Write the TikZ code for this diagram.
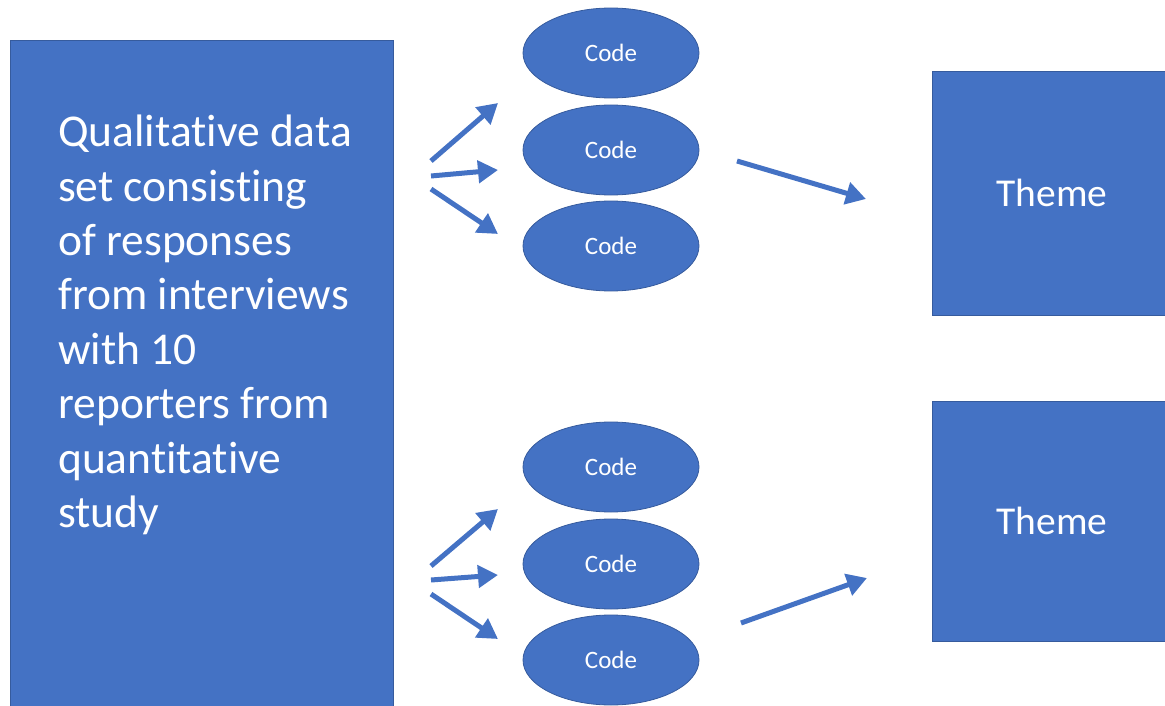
\documentclass[tikz,border=0pt]{standalone}
\usepackage{fontspec}
\setmainfont{Carlito}[Ligatures=NoCommon]
\usetikzlibrary{arrows.meta,shapes.geometric}
\definecolor{boxblue}{HTML}{4472C4}
\tikzset{
  bluebox/.style={fill=boxblue, draw=boxblue!80!black, line width=0.8pt},
  codeell/.style={ellipse, fill=boxblue, draw=boxblue!80!black, line width=0.8pt, minimum width=176pt, minimum height=90pt, inner sep=0pt, text=white, font=\fontsize{25}{30}\selectfont},
  themetxt/.style={text=white, font=\fontsize{39.5}{47}\selectfont},
  flow/.style={draw=boxblue, line width=5pt, -{Triangle[length=20pt,width=22pt]}}
}
\begin{document}
\begin{tikzpicture}[x=1pt,y=-1pt]
\useasboundingbox (0,0) rectangle (1165,706);
% main box
\node[bluebox, minimum width=383pt, minimum height=668pt, anchor=north west, inner sep=0pt] (data) at (10,40) {};
\node[anchor=north west, text=white, align=left, inner sep=0pt, font=\fontsize{45.5}{54.4}\selectfont] (datatxt) at (58,115)
{Qualitative data\\set consisting\\of responses\\from interviews\\with 10\\reporters from\\quantitative\\study};
% themes
\node[bluebox, minimum width=240pt, minimum height=244pt, anchor=north west, inner sep=0pt] (theme1) at (932,71) {};
\node[themetxt] (t1txt) at (1052,193) {Theme};
\node[bluebox, minimum width=240pt, minimum height=240pt, anchor=north west, inner sep=0pt] (theme2) at (932,401) {};
\node[themetxt] (t2txt) at (1052,521) {Theme};
% codes
\node[codeell] (c1) at (611,53) {Code};
\node[codeell] (c2) at (611,150) {Code};
\node[codeell] (c3) at (611,246) {Code};
\node[codeell] (c4) at (611,467) {Code};
\node[codeell] (c5) at (611,564) {Code};
\node[codeell] (c6) at (611,660) {Code};
% arrow end points
\coordinate (a1s) at (431,161); \coordinate (a1e) at (498,103);
\coordinate (a2s) at (431,176); \coordinate (a2e) at (498,170);
\coordinate (a3s) at (431,189); \coordinate (a3e) at (498,234);
\coordinate (b1s) at (431,566); \coordinate (b1e) at (498,509);
\coordinate (b2s) at (431,580); \coordinate (b2e) at (498,575);
\coordinate (b3s) at (431,594); \coordinate (b3e) at (498,639);
\coordinate (t1s) at (737,161); \coordinate (t1e) at (866,199);
\coordinate (t2s) at (741,623); \coordinate (t2e) at (867,578);
\draw[flow] (a1s) -- (a1e);
\draw[flow] (a2s) -- (a2e);
\draw[flow] (a3s) -- (a3e);
\draw[flow] (b1s) -- (b1e);
\draw[flow] (b2s) -- (b2e);
\draw[flow] (b3s) -- (b3e);
\draw[flow] (t1s) -- (t1e);
\draw[flow] (t2s) -- (t2e);
\end{tikzpicture}
\end{document}
